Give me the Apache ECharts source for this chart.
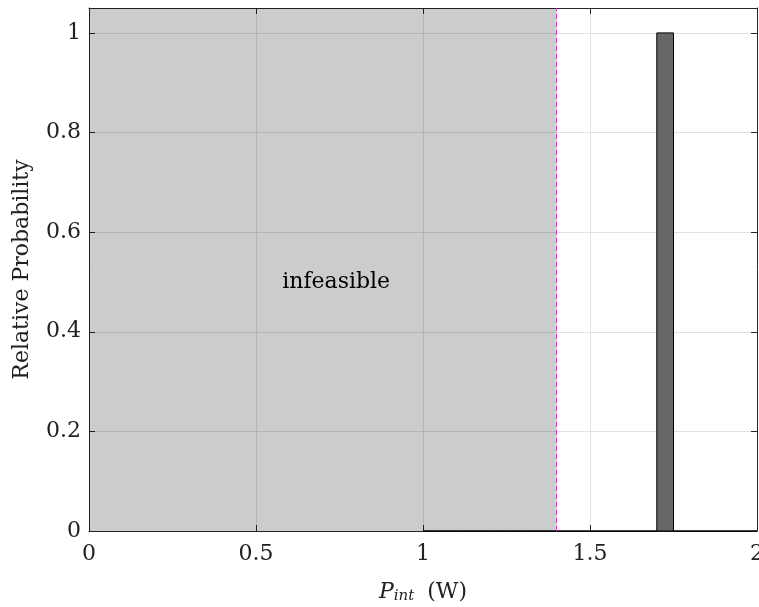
<!DOCTYPE html>
<html>
<head>
<meta charset="utf-8">
<script src="https://cdn.jsdelivr.net/npm/echarts@6/dist/echarts.min.js"></script>
<style>
  html, body { margin: 0; padding: 0; background: #fff; }
  #chart { width: 759px; height: 607px; }
</style>
</head>
<body>
<div id="chart"></div>
<script>
// histogram bins (left edge, width 0.05) and relative probability
const binLeft = [1.00, 1.05, 1.10, 1.15, 1.20, 1.25, 1.30, 1.35, 1.40, 1.45,
  1.50, 1.55, 1.60, 1.65, 1.70, 1.75, 1.80, 1.85, 1.90, 1.95]
const binWidth = 0.05
const counts = [0, 0, 0, 0, 0, 0, 0, 0, 0, 0,
  0, 0, 0, 0, 1, 0, 0, 0, 0, 0]

// infeasible region and limit line
const infeasibleFrom = 0
const infeasibleTo = 1.4
const limitX = 1.4
const infeasibleLabel = ['infeasible']
const labelPos = [0.74, 0.5]

const xTicks = [0, 0.5, 1, 1.5, 2]
const yTicks = [0, 0.2, 0.4, 0.6, 0.8, 1]

const FONT = 'DejaVu Serif'
const AXIS_COLOR = '#262626'
const TEXT_COLOR = '#222222'

const chart = echarts.init(document.getElementById('chart'))

// top / right edges of the box: ticks only
const boxAxis = {
  axisLine: { show: true, onZero: false, lineStyle: { color: AXIS_COLOR, width: 1 } },
  axisTick: { show: true, inside: true, length: 6, lineStyle: { color: AXIS_COLOR } },
  axisLabel: { show: false },
  splitLine: { show: false }
}

chart.setOption({
  animation: false,
  grid: { left: 89, right: 2, top: 8, bottom: 76, outerBoundsMode: 'none', containLabel: false },
  xAxis: [{
    type: 'value',
    min: 0,
    max: 2,
    interval: 0.5,
    axisLine: { show: true, onZero: false, lineStyle: { color: AXIS_COLOR, width: 1 } },
    axisTick: { show: true, inside: true, length: 6, lineStyle: { color: AXIS_COLOR } },
    axisLabel: {
      color: TEXT_COLOR, fontFamily: FONT, fontSize: 22, margin: 12,
      hideOverlap: false,
      formatter: v => xTicks.includes(v) ? String(v) : ''
    },
    splitLine: { show: true, lineStyle: { color: '#e2e2e2', width: 1 } },
    name: '{i|P}{s|int} (W)',
    nameLocation: 'middle',
    nameGap: 50,
    nameTextStyle: {
      color: TEXT_COLOR, fontFamily: FONT, fontSize: 22,
      rich: {
        i: { fontFamily: FONT, fontSize: 22, fontStyle: 'italic', color: TEXT_COLOR },
        s: { fontFamily: FONT, fontSize: 15, fontStyle: 'italic', color: TEXT_COLOR, verticalAlign: 'bottom', padding: [8, 6, 0, 0] }
      }
    },
    z: 0
  }, Object.assign({ type: 'value', min: 0, max: 2, interval: 0.5, position: 'top', z: 0 }, boxAxis)],
  yAxis: [{
    type: 'value',
    min: 0,
    max: 1.05,
    interval: 0.2,
    axisLine: { show: true, onZero: false, lineStyle: { color: AXIS_COLOR, width: 1 } },
    axisTick: { show: true, inside: true, length: 6, lineStyle: { color: AXIS_COLOR } },
    axisLabel: {
      color: TEXT_COLOR, fontFamily: FONT, fontSize: 22, margin: 8,
      showMaxLabel: false,
      formatter: v => yTicks.some(t => Math.abs(t - v) < 1e-9) ? String(+v.toFixed(1)) : ''
    },
    splitLine: { show: true, lineStyle: { color: '#e2e2e2', width: 1 } },
    name: 'Relative Probability',
    nameLocation: 'middle',
    nameGap: 56,
    nameTextStyle: { color: TEXT_COLOR, fontFamily: FONT, fontSize: 22 },
    z: 0
  }, Object.assign({ type: 'value', min: 0, max: 1.05, interval: 0.2, position: 'right', z: 0 }, boxAxis)],
  series: [
    {
      // shaded infeasible region, translucent so the grid shows through
      type: 'line',
      data: [],
      silent: true,
      markArea: {
        silent: true,
        itemStyle: { color: 'rgba(0,0,0,0.2)' },
        label: { show: false },
        data: [[{ xAxis: infeasibleFrom }, { xAxis: infeasibleTo }]]
      }
    },
    {
      type: 'custom',
      z: 3,
      data: binLeft.map((x, i) => [x, counts[i]]),
      renderItem: (params, api) => {
        const p0 = api.coord([api.value(0), 0])
        const p1 = api.coord([api.value(0) + binWidth, api.value(1)])
        return {
          type: 'rect',
          shape: { x: p0[0], y: p1[1], width: p1[0] - p0[0], height: p0[1] - p1[1] },
          style: { fill: '#666666', stroke: '#000000', lineWidth: 1 }
        }
      },
      markLine: {
        silent: true,
        symbol: 'none',
        label: { show: false },
        lineStyle: { color: '#dd33dd', type: [5, 3], width: 1 },
        data: [{ xAxis: limitX }]
      }
    },
    {
      type: 'scatter',
      symbolSize: 0,
      silent: true,
      z: 4,
      itemStyle: { opacity: 1 },
      data: [[labelPos[0], labelPos[1], infeasibleLabel[0]]],
      label: {
        show: true,
        position: 'inside',
        formatter: p => p.data[2],
        fontFamily: FONT,
        fontSize: 22,
        color: '#000000'
      }
    }
  ]
})
</script>
</body>
</html>
